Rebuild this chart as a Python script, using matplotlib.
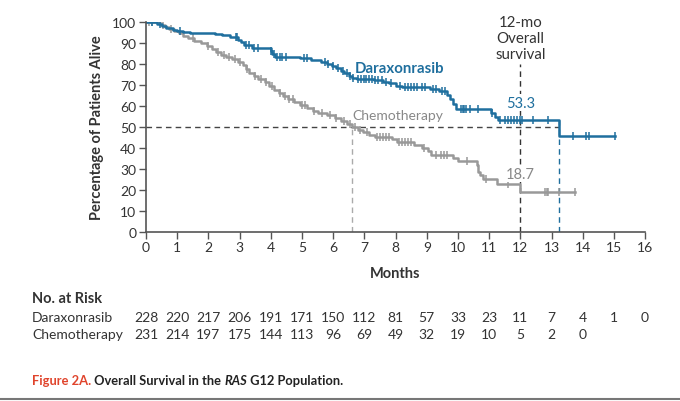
import numpy as np
import matplotlib
matplotlib.use("Agg")
import matplotlib.pyplot as plt
from matplotlib.transforms import blended_transform_factory
from matplotlib.lines import Line2D

plt.rcParams['font.family'] = ['Lato', 'DejaVu Sans']

# Datos
dara_t = [0, 0.35, 0.5, 0.65, 0.85, 1.0, 1.2, 1.4, 2.2, 2.45, 2.7, 2.95, 3.05, 3.15, 3.4,
          4.0, 4.05, 4.15, 4.95, 5.3, 5.6, 5.8, 5.95, 6.1, 6.25, 6.35, 6.5, 6.6, 6.75, 7.3,
          7.6, 7.8, 8.0, 8.2, 9.1, 9.4, 9.65, 9.75, 9.85, 9.95, 11.05, 11.2, 11.3, 13.25, 15.05]
dara_s = [100, 99.1, 98.3, 97.4, 96.5, 96.0, 95.6, 95.0, 94.6, 93.8, 93.0, 91.8, 90.5, 89.2, 87.8,
          86.5, 85.0, 83.6, 82.9, 82.2, 81.2, 80.2, 79.4, 78.3, 76.8, 75.8, 74.5, 73.4, 72.8, 72.3,
          71.7, 70.9, 69.8, 69.3, 68.0, 67.2, 65.5, 63.2, 61.0, 58.8, 56.6, 55.0, 53.3, 45.7, 45.7]
dara_cens = [0.2, 0.45, 1.1, 2.9, 2.93, 3.2, 3.3, 3.45, 3.6, 4.02, 4.1, 4.2, 4.3, 4.35, 4.5,
             5.05, 5.15, 5.75, 5.85, 6.0, 6.15, 6.3, 6.45, 6.55, 6.65, 6.8, 6.9, 7.0, 7.05, 7.15,
             7.25, 7.35, 7.45, 7.55, 7.7, 7.85, 8.15, 8.3, 8.4, 8.5, 8.6, 8.7, 8.85, 8.95, 9.2,
             9.3, 9.5, 9.6, 10.1, 10.15, 10.2, 10.25, 10.4, 10.65, 11.1, 11.35, 11.5, 11.6, 11.7,
             11.8, 11.9, 12.0, 12.05, 12.4, 12.9, 13.7, 14.1, 14.2, 15.05]

chemo_t = [0, 0.45, 0.6, 0.75, 0.9, 1.05, 1.2, 1.35, 1.55, 1.75, 1.95, 2.1, 2.25, 2.4, 2.55,
           2.75, 2.95, 3.1, 3.2, 3.3, 3.45, 3.6, 3.8, 3.95, 4.1, 4.25, 4.4, 4.55, 4.75, 4.95,
           5.15, 5.35, 5.5, 5.8, 6.05, 6.25, 6.45, 6.6, 6.8, 6.95, 7.15, 7.35, 7.9, 8.05, 8.6,
           8.85, 9.05, 9.15, 9.85, 10.0, 10.6, 10.65, 10.72, 10.8, 11.25, 12.0, 13.76]
chemo_s = [100, 98.9, 97.8, 96.9, 96.0, 95.0, 93.7, 92.4, 91.1, 90.2, 88.9, 87.5, 86.0, 84.6, 83.3,
           82.4, 81.0, 79.5, 77.6, 76.0, 74.2, 72.8, 71.3, 69.6, 67.8, 66.3, 64.8, 63.3, 62.0, 60.5,
           59.2, 57.8, 56.6, 55.6, 54.3, 52.9, 51.3, 49.9, 48.6, 47.6, 46.4, 45.3, 44.4, 43.0, 41.5,
           39.8, 38.3, 36.8, 35.0, 33.5, 31.6, 28.6, 26.8, 25.0, 22.8, 18.7, 18.7]
chemo_cens = [0.1, 0.2, 0.55, 0.8, 1.5, 2.0, 2.3, 2.5, 2.65, 2.85, 3.0, 3.25, 3.5, 3.7, 3.85,
              4.05, 4.3, 4.45, 4.6, 4.7, 5.0, 5.1, 5.4, 5.65, 5.9, 6.1, 6.35, 6.55, 6.7, 6.85,
              7.1, 7.4, 7.5, 7.6, 7.7, 7.8, 8.1, 8.2, 8.3, 8.4, 8.5, 8.9, 9.3, 9.45, 9.55, 9.65,
              10.3, 10.9, 11.6, 12.8, 12.85, 12.9, 13.25, 13.76]

meses = list(range(0, 17))
riesgo_dara = [228, 220, 217, 206, 191, 171, 150, 112, 81, 57, 33, 23, 11, 7, 4, 1, 0]
riesgo_chemo = [231, 214, 197, 175, 144, 113, 96, 69, 49, 32, 19, 10, 5, 2, 0]

mediana_chemo = 6.6
mediana_dara = 13.25
os12_dara = 53.3
os12_chemo = 18.7

azul = '#1f6f9e'
gris = '#999999'
texto = '#333333'
eje = '#555555'


def nivel(tiempos, superv, t):
    idx = np.searchsorted(tiempos, t, side='right') - 1
    return np.array(superv)[idx]


fig = plt.figure(figsize=(6.8, 4.02), dpi=100)
ax = fig.add_axes([0.2147, 0.4216, 0.734, 0.52])

# Lineas de referencia
ax.plot([0, mediana_dara], [50, 50], color='#444444', lw=1.0, ls=(0, (4, 3)))
ax.plot([mediana_chemo, mediana_chemo], [0, 50], color='#aaaaaa', lw=1.0, ls=(0, (4, 3)))
ax.plot([12, 12], [0, 80], color='#333333', lw=1.0, ls=(0, (4, 3)))
ax.plot([mediana_dara, mediana_dara], [0, os12_dara], color=azul, lw=1.0, ls=(0, (4, 3)))

# Curvas de supervivencia
ax.step(chemo_t, chemo_s, where='post', color=gris, lw=1.8)
ax.plot(chemo_cens, nivel(chemo_t, chemo_s, chemo_cens), ls='none', marker='|',
        ms=6, mew=1.1, color=gris)
ax.step(dara_t, dara_s, where='post', color=azul, lw=1.8)
ax.plot(dara_cens, nivel(dara_t, dara_s, dara_cens), ls='none', marker='|',
        ms=6, mew=1.1, color=azul)

fondo = dict(facecolor='white', edgecolor='none', pad=1.0)
ax.text(6.7, 78, 'Daraxonrasib', color=azul, fontsize=10.8, fontweight='bold', va='center')
ax.text(6.6, 55.8, 'Chemotherapy', color='#888888', fontsize=10, va='center')
ax.text(12, 61.5, f'{os12_dara}', color=azul, fontsize=10.5, ha='center', va='center', bbox=fondo)
ax.text(12, 27.5, f'{os12_chemo}', color='#888888', fontsize=10.5, ha='center', va='center', bbox=fondo)
ax.text(12, 81.5, '12-mo\nOverall\nsurvival', color=texto, fontsize=10.8, ha='center',
        va='bottom', linespacing=1.2)

ax.set_xlim(0, 16)
ax.set_ylim(0, 100)
ax.set_xticks(meses)
ax.set_yticks(range(0, 101, 10))
ax.tick_params(direction='out', length=5, width=1, color=eje, labelcolor=texto, labelsize=10, pad=2)
for lado in ['top', 'right']:
    ax.spines[lado].set_visible(False)
for lado in ['left', 'bottom']:
    ax.spines[lado].set_color(eje)
    ax.spines[lado].set_linewidth(1.2)
ax.set_xlabel('Months', fontsize=10.5, fontweight='bold', color=texto, labelpad=9)
ax.set_ylabel('Percentage of Patients Alive', fontsize=10.5, fontweight='bold', color=texto, labelpad=6)

# Tabla de pacientes en riesgo
tr = blended_transform_factory(ax.transData, fig.transFigure)
fig.text(32 / 680, 1 - 299 / 402, 'No. at Risk', fontsize=10.5, fontweight='bold', color=texto, va='center')
fig.text(32 / 680, 1 - 318 / 402, 'Daraxonrasib', fontsize=10, color=texto, va='center')
fig.text(32 / 680, 1 - 335 / 402, 'Chemotherapy', fontsize=10, color=texto, va='center')
for m, n in zip(meses, riesgo_dara):
    ax.text(m, 1 - 318 / 402, str(n), transform=tr, ha='center', va='center', fontsize=10, color=texto)
for m, n in zip(meses, riesgo_chemo):
    ax.text(m, 1 - 335 / 402, str(n), transform=tr, ha='center', va='center', fontsize=10, color=texto)

# Pie de figura con estilos mezclados
partes = [('Figure 2A.', '#e0442c', 'normal'),
          (' Overall Survival in the ', '#222222', 'normal'),
          ('RAS', '#222222', 'italic'),
          (' G12 Population.', '#222222', 'normal')]
fig.canvas.draw()
rend = fig.canvas.get_renderer()
x0 = 32
for txt, col, estilo in partes:
    t = fig.text(x0 / 680, 1 - 381 / 402, txt, fontsize=9.3, fontweight='bold', fontstyle=estilo,
                 color=col, va='center')
    bb = t.get_window_extent(renderer=rend)
    x0 += bb.width

fig.add_artist(Line2D([0, 1], [1 - 400 / 402, 1 - 400 / 402], transform=fig.transFigure,
                      color='#777777', lw=1.5))

fig.savefig('out.png', dpi=100)
